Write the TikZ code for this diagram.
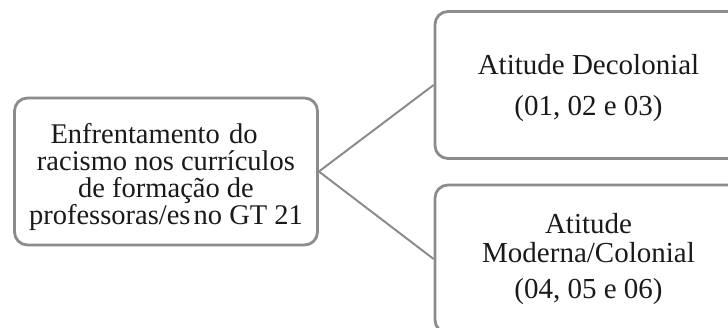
\documentclass[tikz,border=0pt]{standalone}
\usepackage{fontspec}
\setmainfont{Liberation Serif}
\definecolor{boxgray}{HTML}{8C8C8C}
\definecolor{txt}{HTML}{1A1A1A}
\begin{document}
\begin{tikzpicture}[x=1pt,y=-1pt,
  box/.style={draw=boxgray, line width=2.8pt, rounded corners=13pt, fill=white,
    inner sep=0pt},
  label/.style={align=center, text=txt, inner sep=0pt},
  link/.style={draw=boxgray, line width=2pt}]
\useasboundingbox (0,0) rectangle (728,328);
\clip (0,0) rectangle (728,328);

% frames
\node[box, minimum width=303pt, minimum height=147pt] (tema) at (166,171.5) {};
\node[box, minimum width=307pt, minimum height=147pt] (decolonial) at (588.5,85) {};
\node[box, minimum width=307pt, minimum height=148pt] (colonial) at (588.5,259) {};

% texts
\node[label, font=\fontsize{28.5}{26.8}\selectfont] (tematxt) at (166,177)
  {Enfrentamento\hspace{2pt} do\hspace*{24pt}\\racismo nos currículos\\de formação de\\professoras/es\hspace{-4pt} no GT 21};
\node[label, font=\fontsize{29}{29}\selectfont] (decolonialtxt) at (588.5,88)
  {Atitude Decolonial\\[12pt](01, 02 e 03)};
\node[label, font=\fontsize{29}{29}\selectfont] (colonialtxt) at (588.5,259)
  {Atitude\\Moderna/Colonial\\[7pt](04, 05 e 06)};

% connectors
\draw[link] (tema.east) -- (decolonial.west);
\draw[link] (tema.east) -- (colonial.west);
\end{tikzpicture}
\end{document}
